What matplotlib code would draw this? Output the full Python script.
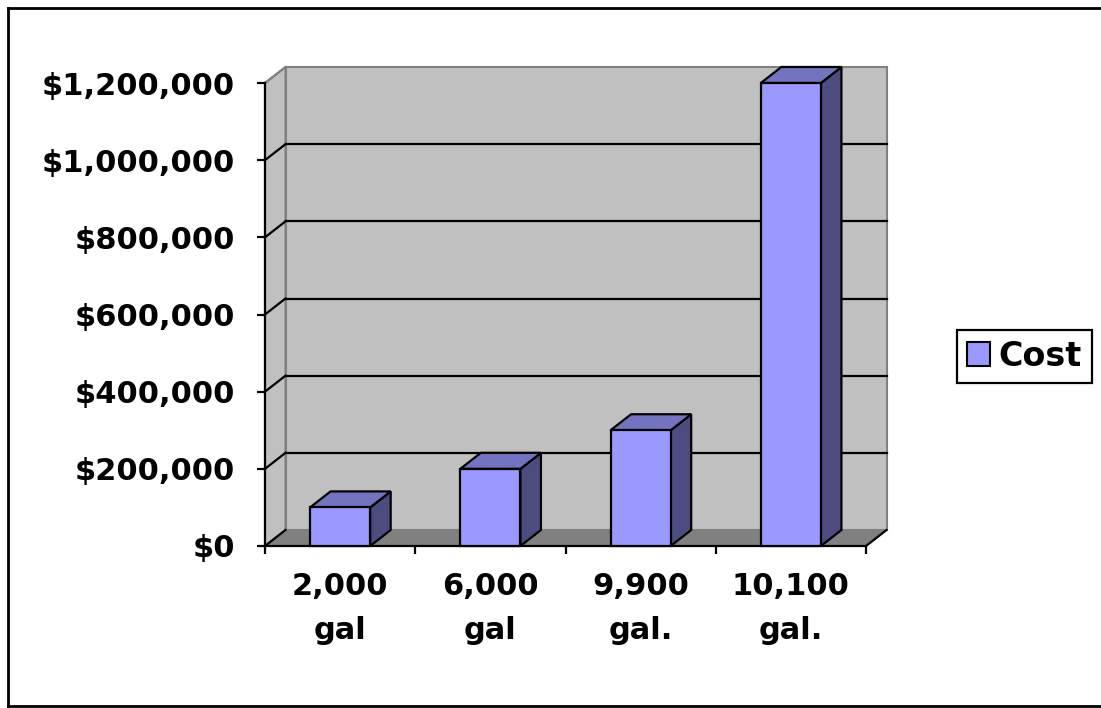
import matplotlib
matplotlib.use("Agg")
import matplotlib.pyplot as plt
from matplotlib.patches import Polygon, Rectangle, Patch
from matplotlib.lines import Line2D

# ---- data ----
categories = ["2,000\ngal", "6,000\ngal", "9,900\ngal.", "10,100\ngal."]
cost = [100000, 200000, 300000, 1200000]
series_name = "Cost"
y_ticks = [0, 200000, 400000, 600000, 800000, 1000000, 1200000]
y_tick_labels = ["$0", "$200,000", "$400,000", "$600,000", "$800,000", "$1,000,000", "$1,200,000"]

# ---- styling ----
W, H = 1101, 708
FRONT = "#9999FF"
TOP = "#7373BF"
SIDE = "#4C4C7F"
WALL = "#C0C0C0"
FLOOR = "#808080"
EDGE = "#808080"
FS = 22

plt.rcParams['font.family'] = ['DejaVu Sans']
plt.rcParams['font.weight'] = 'bold'

fig = plt.figure(figsize=(W / 100, H / 100), dpi=100)
fig.patch.set_facecolor("white")

# front plane of the plot area in pixels
left_px, right_px, bottom_px, top_px = 265, 866, 546, 83
ax = fig.add_axes([left_px / W, (H - bottom_px) / H,
                   (right_px - left_px) / W, (bottom_px - top_px) / H])
n = len(categories)
ymax = y_ticks[-1]
ax.set_xlim(0, n)
ax.set_ylim(0, ymax)
ax.set_facecolor("none")

# depth offset (pixels -> data units)
DXp, DYp = 20.5, 16
DX = DXp * n / (right_px - left_px)
DY = DYp * ymax / (bottom_px - top_px)

# back wall
ax.add_patch(Polygon([(DX, DY), (n + DX, DY), (n + DX, ymax + DY), (DX, ymax + DY)],
                     closed=True, fc=WALL, ec=EDGE, lw=1.5, clip_on=False, zorder=0))
# side wall
ax.add_patch(Polygon([(0, 0), (DX, DY), (DX, ymax + DY), (0, ymax)],
                     closed=True, fc=WALL, ec=EDGE, lw=1.5, clip_on=False, zorder=0))
# floor
ax.add_patch(Polygon([(0, 0), (n, 0), (n + DX, DY), (DX, DY)],
                     closed=True, fc=FLOOR, ec=FLOOR, lw=1, clip_on=False, zorder=0.5))

# gridlines
for v in y_ticks[1:-1]:
    ax.add_line(Line2D([DX, n + DX], [v + DY, v + DY], color="black", lw=1.6,
                       clip_on=False, zorder=1))
for v in y_ticks[:-1]:
    ax.add_line(Line2D([0, DX], [v, v + DY], color="black", lw=1.6,
                       clip_on=False, zorder=1))
ax.add_line(Line2D([0, DX], [ymax, ymax + DY], color=EDGE, lw=1.5,
                   clip_on=False, zorder=1))
# right floor edge
ax.add_line(Line2D([n, n + DX], [0, DY], color="black", lw=1.6, clip_on=False, zorder=1))

# bars
bw = 0.4
for i, v in enumerate(cost):
    x0 = i + 0.5 - bw / 2
    x1 = x0 + bw
    ax.add_patch(Polygon([(x1, 0), (x1 + DX, DY), (x1 + DX, v + DY), (x1, v)],
                         closed=True, fc=SIDE, ec="black", lw=1.6, clip_on=False, zorder=3,
                         joinstyle="miter"))
    ax.add_patch(Polygon([(x0, v), (x1, v), (x1 + DX, v + DY), (x0 + DX, v + DY)],
                         closed=True, fc=TOP, ec="black", lw=1.6, clip_on=False, zorder=3,
                         joinstyle="miter"))
    ax.add_patch(Rectangle((x0, 0), bw, v, fc=FRONT, ec="black", lw=1.6,
                           clip_on=False, zorder=4, joinstyle="miter"))

# spines / ticks
for s in ["top", "right"]:
    ax.spines[s].set_visible(False)
for s in ["left", "bottom"]:
    ax.spines[s].set_color("black")
    ax.spines[s].set_linewidth(1.6)
    ax.spines[s].set_zorder(2)

ax.set_yticks(y_ticks)
ax.set_yticklabels(y_tick_labels, fontsize=FS, fontweight="bold")
ax.tick_params(axis="y", direction="out", length=5.8, width=1.6, pad=16)

ax.set_xticks(range(n + 1))
ax.set_xticklabels([""] * (n + 1))
ax.tick_params(axis="x", which="major", direction="out", length=5.8, width=1.6)
ax.set_xticks([i + 0.5 for i in range(n)], minor=True)
ax.set_xticklabels(categories, minor=True, fontsize=FS, fontweight="bold",
                   linespacing=1.65)
ax.tick_params(axis="x", which="minor", length=0, pad=19)

# legend
fig.legend(handles=[Patch(fc=FRONT, ec="black", lw=1.5)], labels=[series_name],
           loc="center left", bbox_to_anchor=(957 / W, 1 - 356 / H),
           prop={"size": 24, "weight": "bold"}, frameon=True, fancybox=False,
           edgecolor="black", framealpha=1, handlelength=0.7, handleheight=0.7,
           handletextpad=0.25, borderpad=0.3, borderaxespad=0)
leg = fig.legends[0]
leg.get_frame().set_linewidth(1.6)

# outer chart border
bx0, by0 = 7.5 / W, 1 - 705.5 / H
by1 = 1 - 7.5 / H
fig.add_artist(Line2D([bx0, bx0], [by0, by1], color="black", lw=2, transform=fig.transFigure))
fig.add_artist(Line2D([bx0, 1.01], [by1, by1], color="black", lw=2, transform=fig.transFigure))
fig.add_artist(Line2D([bx0, 1.01], [by0, by0], color="black", lw=2, transform=fig.transFigure))

fig.savefig("out.png", dpi=100)
